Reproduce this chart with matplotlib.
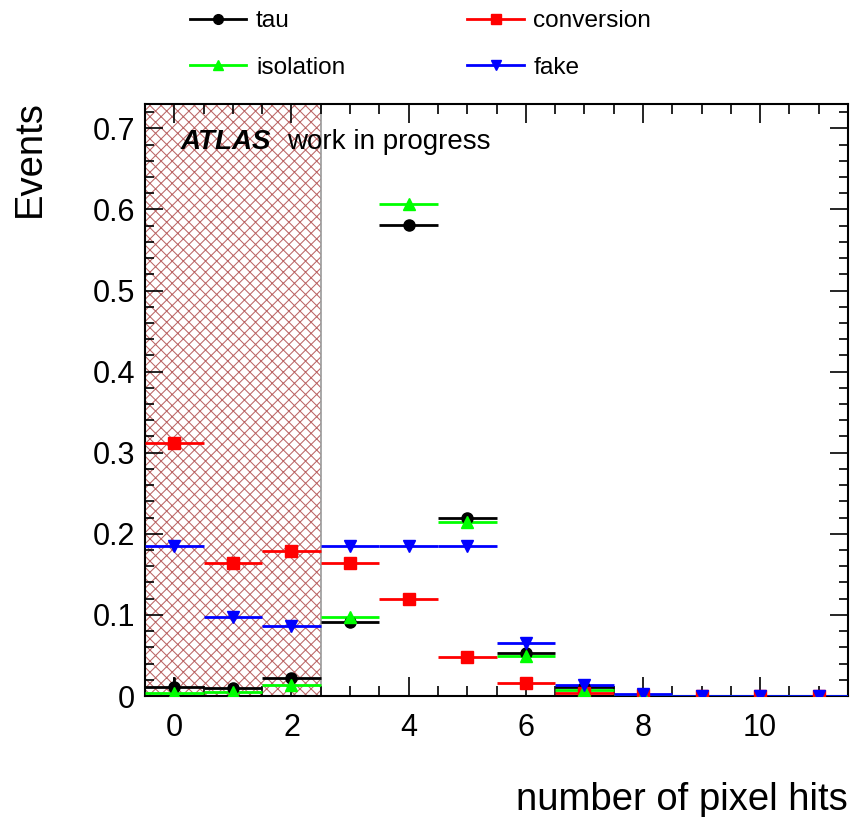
import numpy as np
import matplotlib
matplotlib.use("Agg")
from matplotlib import pyplot as plt
from matplotlib.ticker import MultipleLocator
from matplotlib.patches import Rectangle
from matplotlib.lines import Line2D

# formating
plt.rcParams['font.family'] = ['Liberation Sans', 'DejaVu Sans']
plt.rcParams['hatch.linewidth'] = 0.75

# data: fraction of events per number of pixel hits
bins = np.arange(12)
tau = [0.0115, 0.010, 0.022, 0.091, 0.581, 0.220, 0.053, 0.011, 0.001, 0.0, 0.0, 0.0]
tau_err = [0.012, 0.005, 0.006, 0.002, 0.004, 0.003, 0.002, 0.002, 0.001, 0.0, 0.0, 0.0]
conversion = [0.3116, 0.1646, 0.1786, 0.1646, 0.119, 0.048, 0.0156, 0.004, 0.001, 0.0, 0.0, 0.0]
conversion_err = [0.003, 0.003, 0.003, 0.003, 0.002, 0.002, 0.006, 0.004, 0.001, 0.0, 0.0, 0.0]
isolation = [0.004, 0.005, 0.0135, 0.0977, 0.6067, 0.214, 0.049, 0.0075, 0.001, 0.0, 0.0, 0.0]
isolation_err = [0.004, 0.003, 0.004, 0.002, 0.003, 0.002, 0.002, 0.002, 0.001, 0.0, 0.0, 0.0]
fake = [0.1847, 0.097, 0.086, 0.1847, 0.1847, 0.1847, 0.0656, 0.0135, 0.0025, 0.0, 0.0, 0.0]
fake_err = [0.002, 0.002, 0.002, 0.001, 0.001, 0.001, 0.002, 0.002, 0.001, 0.0, 0.0, 0.0]

series = [
    ("tau", tau, tau_err, "black", "o"),
    ("conversion", conversion, conversion_err, "#ff0000", "s"),
    ("isolation", isolation, isolation_err, "#00ff00", "^"),
    ("fake", fake, fake_err, "#0000ff", "v"),
]

fig = plt.figure(figsize=(8.51, 8.17), dpi=100)
ax = fig.add_axes([0.1704, 0.1481, 0.8261, 0.7246])

# excluded region
ax.add_patch(Rectangle((-0.5, 0), 3.0, 0.73, facecolor="none", edgecolor="#bb6666",
                       hatch="xxx", linewidth=0, zorder=1))
ax.add_patch(Rectangle((-0.5, 0), 3.0, 0.73, facecolor="none", edgecolor="#999999",
                       linewidth=1.2, zorder=1))

handles = {}
for name, vals, errs, col, mk in series:
    ax.errorbar(bins, vals, xerr=0.5, yerr=errs, fmt=mk, color=col, ecolor=col,
                markersize=8, elinewidth=2, capsize=0, zorder=3)
    handles[name] = Line2D([], [], color=col, marker=mk, markersize=7, linewidth=2)

ax.set_xlim(-0.5, 11.5)
ax.set_ylim(0, 0.73)
ax.xaxis.set_major_locator(MultipleLocator(2))
ax.xaxis.set_minor_locator(MultipleLocator(0.5))
ax.yaxis.set_major_locator(MultipleLocator(0.1))
ax.yaxis.set_minor_locator(MultipleLocator(0.02))
ax.set_yticks(np.arange(0, 0.71, 0.1))
ax.set_yticklabels(["0", "0.1", "0.2", "0.3", "0.4", "0.5", "0.6", "0.7"])
ax.tick_params(axis="both", which="both", direction="in", top=True, right=True,
               labelsize=22, width=1.2)
ax.tick_params(axis="x", which="major", length=14, pad=12)
ax.tick_params(axis="x", which="minor", length=7)
ax.tick_params(axis="y", which="major", length=13, pad=7)
ax.tick_params(axis="y", which="minor", length=6.5)
for s in ax.spines.values():
    s.set_linewidth(1.5)

ax.text(0.05, 0.935, "ATLAS", transform=ax.transAxes, fontsize=20,
        fontweight="bold", fontstyle="italic", va="center", ha="left")
ax.text(0.202, 0.935, "work in progress", transform=ax.transAxes, fontsize=20,
        va="center", ha="left")

fig.text(30 / 851, 1 - 100 / 817, "Events", rotation=90, fontsize=27.5,
         ha="center", va="top")
fig.text(848 / 851, 1 - 800 / 817, "number of pixel hits", fontsize=27.5,
         ha="right", va="center")

order = ["tau", "isolation", "conversion", "fake"]
fig.legend([handles[n] for n in order], order,
           loc="upper left", bbox_to_anchor=(190 / 851, 1 - 10 / 817), ncol=2,
           frameon=False, fontsize=17.6, handlelength=2.3, handletextpad=0.4,
           columnspacing=5.0, labelspacing=1.0, borderpad=0, borderaxespad=0)

plt.savefig("out.png", dpi=100)
plt.close()
